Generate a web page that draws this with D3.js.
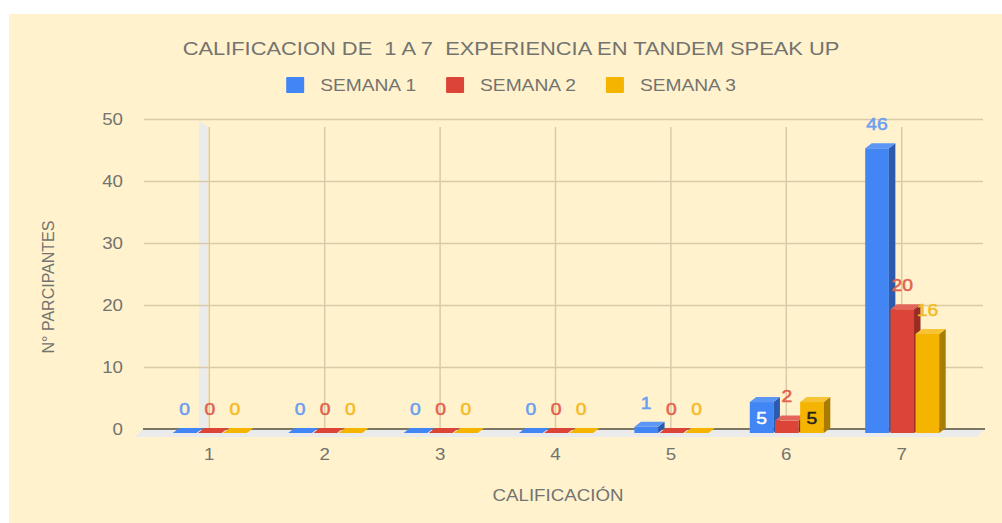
<!DOCTYPE html>
<html>
<head>
<meta charset="utf-8">
<script src="https://cdn.jsdelivr.net/npm/d3@7"></script>
<style>
  body { margin: 0; background: #fff; }
  text { font-family: "Liberation Sans", Arial, sans-serif; }
</style>
</head>
<body>
<div id="chart"></div>
<script>
const categories = ["1", "2", "3", "4", "5", "6", "7"];
const series = ["SEMANA 1", "SEMANA 2", "SEMANA 3"];
const semana1 = [0, 0, 0, 0, 1, 5, 46];
const semana2 = [0, 0, 0, 0, 0, 2, 20];
const semana3 = [0, 0, 0, 0, 0, 5, 16];
const yTicks = [0, 10, 20, 30, 40, 50];
// labels drawn inside their bar in the original
const insideLabels = [["6", "SEMANA 1"], ["6", "SEMANA 3"]];

const width = 1002;
const height = 523;
const depthX = 6.5;
const depthY = -5;
const stretch = 1.17; // the original picture is a bit wider than tall

const colors = {
    "SEMANA 1": { front: "#4285f4", side: "#2c5aae", top: "#5d97f6", label: "#6a9ef0", inside: "#ffffff" },
    "SEMANA 2": { front: "#db4437", side: "#9b2c22", top: "#e2645a", label: "#e2614f", inside: "#ffffff" },
    "SEMANA 3": { front: "#f4b400", side: "#a87c00", top: "#f6c435", label: "#f4bb25", inside: "#222222" }
};

const rows = [];
categories.forEach((c, i) => {
    [semana1, semana2, semana3].forEach((arr, j) => {
        rows.push({ cat: c, s: series[j], v: arr[i] });
    });
});

const svg = d3.select("#chart")
    .append("svg")
    .attr("width", width)
    .attr("height", height);

svg.append("rect")
    .attr("x", 9).attr("y", 14)
    .attr("width", width - 9).attr("height", height - 14)
    .attr("fill", "#fff2cc");

// horizontal text, stretched like the original
const hText = (parent, x, y, txt, size, fill, anchor = "middle") => {
    const t = parent.append("g")
        .attr("transform", `translate(${x},${y}) scale(${stretch},1)`)
        .append("text")
        .attr("dy", "0.35em")
        .attr("text-anchor", anchor)
        .attr("fill", fill)
        .style("font-size", size + "px")
        .style("white-space", "pre")
        .text(txt);
    return t;
};

// Scales
const x = d3.scaleBand().domain(categories).range([151.6, 959.4]);
const xSub = d3.scaleBand().domain(series).range([0, 74]).paddingInner(0.06);
const yFront = d3.scaleLinear().domain([0, 50]).range([433, 123.5]);
const yBack = d3.scaleLinear().domain([0, 50]).range([429, 119]);
const cx = c => x(c) + x.bandwidth() / 2;

// Left wall
svg.append("path")
    .attr("d", "M199,121 L208,127 L208,430 L199,436 Z")
    .attr("fill", "#ebebeb");

// Horizontal gridlines + y labels
const yAxis = svg.append("g")
    .attr("transform", "translate(144,0)")
    .call(d3.axisLeft(yBack).tickValues(yTicks).tickSize(-(983 - 144)).tickPadding(21));
yAxis.select(".domain").remove();
yAxis.selectAll(".tick line")
    .attr("stroke", "#d9cba7")
    .attr("stroke-width", 1.5);
yAxis.selectAll(".tick text")
    .attr("x", 0)
    .attr("transform", `translate(-21,0) scale(${stretch},1)`)
    .attr("fill", "#737370")
    .style("font-size", "16px");

// Vertical gridlines
svg.append("g")
    .selectAll("line")
    .data(categories)
    .join("line")
    .attr("x1", d => cx(d)).attr("x2", d => cx(d))
    .attr("y1", 127).attr("y2", yBack(0))
    .attr("stroke", "#d9cba7")
    .attr("stroke-width", 1.5);

// Floor
svg.append("path")
    .attr("d", "M143,429 L985,429 L977,437 L135,437 Z")
    .attr("fill", "#ebebeb");
svg.append("line")
    .attr("x1", 143).attr("x2", 985)
    .attr("y1", 429).attr("y2", 429)
    .attr("stroke", "#55503f")
    .attr("stroke-width", 1.5);

// X labels
const xLabels = svg.append("g");
categories.forEach(c => hText(xLabels, cx(c), 454, c, 16, "#737370"));

// Bars
const bars = svg.append("g")
    .selectAll("g")
    .data(rows)
    .join("g");

const bx = d => cx(d.cat) - 36.5 + xSub(d.s);
const bw = xSub.bandwidth();
const base = yFront(0);

bars.filter(d => d.v > 0).append("rect")
    .attr("x", d => bx(d))
    .attr("y", d => yFront(d.v))
    .attr("width", bw)
    .attr("height", d => base - yFront(d.v))
    .attr("fill", d => colors[d.s].front);

bars.filter(d => d.v > 0).append("path")
    .attr("d", d => {
        const x0 = bx(d) + bw, t = yFront(d.v);
        return `M${x0},${t} L${x0 + depthX},${t + depthY} L${x0 + depthX},${base + depthY} L${x0},${base} Z`;
    })
    .attr("fill", d => colors[d.s].side);

bars.append("path")
    .attr("d", d => {
        const x0 = bx(d), t = yFront(d.v);
        return `M${x0},${t} L${x0 + depthX},${t + depthY} L${x0 + bw + depthX},${t + depthY} L${x0 + bw},${t} Z`;
    })
    .attr("fill", d => d.v > 0 ? colors[d.s].top : colors[d.s].front);

// Data labels
const isInside = d => insideLabels.some(p => p[0] === d.cat && p[1] === d.s);
bars.each(function (d) {
    const inside = isInside(d);
    const col = inside ? colors[d.s].inside : colors[d.s].label;
    hText(d3.select(this), bx(d) + bw / 2,
        inside ? yFront(d.v) + 16 : yFront(d.v) - 24,
        d.v, 16.5, col)
        .attr("stroke", col)
        .attr("stroke-width", 0.5);
});

// Title
hText(svg, 511, 48, "CALIFICACION DE  1 A 7  EXPERIENCIA EN TANDEM SPEAK UP", 18.7, "#737370");

// Legend
const legend = svg.append("g");
let lx = 0;
series.forEach(s => {
    legend.append("rect")
        .attr("x", lx).attr("y", 77)
        .attr("width", 18).attr("height", 16)
        .attr("rx", 1)
        .attr("fill", colors[s].front);
    const t = hText(legend, lx + 34, 85, s, 16.4, "#737370", "start");
    lx += 34 + t.node().getComputedTextLength() * stretch + 30;
});
const legendW = lx - 30;
legend.attr("transform", `translate(${511 - legendW / 2},0)`);

// Axis titles
hText(svg, 558, 495, "CALIFICACIÓN", 16, "#737370");

svg.append("text")
    .attr("transform", "translate(48,287) rotate(-90)")
    .attr("dy", "0.35em")
    .attr("text-anchor", "middle")
    .attr("fill", "#737370")
    .style("font-size", "16px")
    .text("N° PARCIPANTES");
</script>
</body>
</html>
